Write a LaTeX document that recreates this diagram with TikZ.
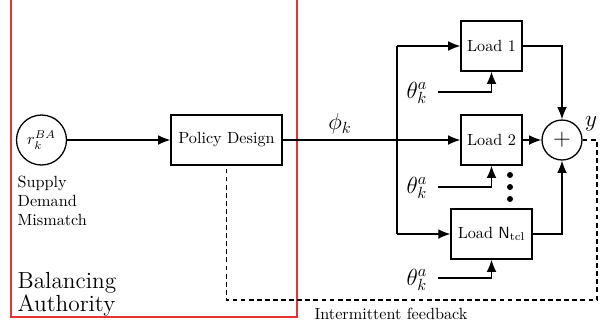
\documentclass[tikz,border=0pt]{standalone}
\usetikzlibrary{arrows.meta}
\definecolor{bared}{RGB}{228,52,52}
\begin{document}
\begin{tikzpicture}[x=0.618pt,y=-0.618pt,
  line width=0.8pt,
  arr/.style={-{Latex[length=7.5pt,width=6pt]}},
  blk/.style={draw,rectangle,inner sep=0pt,minimum height=30.9pt},
  circ/.style={draw,circle,inner sep=0pt},
  heavy/.style={line width=1.4pt},
  fb/.style={dash pattern=on 3pt off 2pt},
  thl/.style={font=\Large,inner sep=1pt}
]
\useasboundingbox (0,0) rectangle (605,328);
% balancing authority box
\draw[bared,line width=0.8pt] (11,-5) rectangle (297,317);
\node[anchor=north west,inner sep=0pt,align=left,font=\fontsize{14.4}{14.2}\selectfont] (ba) at (17,272) {Balancing\\Authority};
% source circle and policy
\node[circ,minimum size=30.9pt] (r) at (41.5,140) {$r_k^{BA}$};
\node[anchor=north west,inner sep=0pt,align=left] (sdm) at (17,175) {Supply\\Demand\\Mismatch};
\node[blk,minimum width=68.6pt] (pd) at (226.5,140) {Policy Design};
\draw[arr] (r) -- (pd);
% loads
\node[blk,minimum width=37.7pt] (l1) at (491.5,46) {Load 1};
\node[blk,minimum width=37.7pt] (l2) at (491.5,140) {Load 2};
\node[blk,minimum width=50pt] (ln) at (491.5,234) {Load $\mathsf{N}_{\mathrm{tcl}}$};
\node[circ,minimum size=24.7pt,font=\Large] (sum) at (562,140) {$+$};
% phi distribution
\coordinate (br) at (397,140);
\coordinate (bt) at (397,46);
\coordinate (bb) at (397,234);
\draw[heavy] (pd.east) -- (br);
\node[font=\Large] (phi) at (340,124) {$\phi_k$};
\draw[arr] (br) -- (l2.west);
\draw (bt) -- (bb);
\draw[arr] (bt) -- (l1.west);
\draw[arr] (bb) -- (ln.west);
% to sum
\draw[arr] (l1.east) -| (sum.north);
\draw[arr] (l2.east) -- (sum.west);
\draw[arr] (ln.east) -| (sum.south);
\node[font=\Large,inner sep=1pt] (y) at (591,124) {$y$};
% theta inputs
\coordinate (t1) at (438,92);
\coordinate (t1m) at (462,92);
\draw[heavy] (t1) -- (t1m);
\draw[arr] (t1m) -| (l1.south);
\node[thl] (th1) at (417,93) {$\theta_k^a$};
\coordinate (t2) at (438,187);
\coordinate (t2m) at (462,187);
\draw[heavy] (t2) -- (t2m);
\draw[arr] (t2m) -| (l2.south);
\node[thl] (th2) at (417,188) {$\theta_k^a$};
\coordinate (t3) at (438,278);
\coordinate (t3m) at (462,278);
\draw[heavy] (t3) -- (t3m);
\draw[arr] (t3m) -| (ln.south);
\node[thl] (th3) at (417,280) {$\theta_k^a$};
% dots
\fill (510,175) circle (3);
\fill (510,187) circle (3);
\fill (510,199) circle (3);
% feedback
\coordinate (fa) at (597,140);
\coordinate (fb) at (597,300);
\coordinate (fc) at (226.5,300);
\draw[fb] (sum.east) -- (fa) -- (fb) -- (fc) -- (pd.south);
\node (ifb) at (391,314) {Intermittent feedback};
\end{tikzpicture}
\end{document}
